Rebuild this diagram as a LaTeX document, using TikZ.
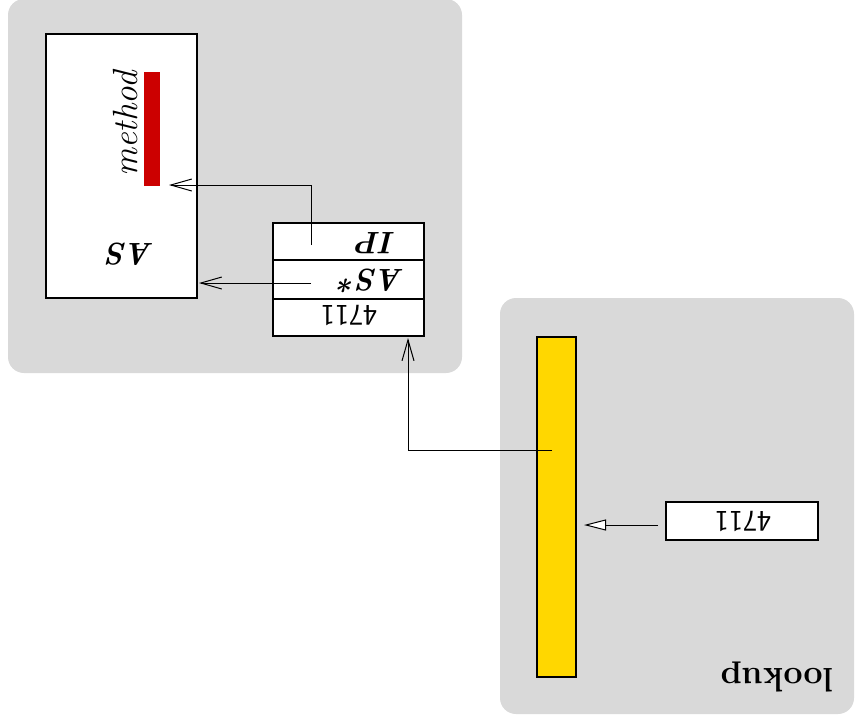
\documentclass[tikz,border=0pt]{standalone}
\usepackage{fontspec}
\usetikzlibrary{arrows.meta}
\definecolor{panelgrey}{HTML}{D9D9D9}
\definecolor{baryellow}{HTML}{FFD700}
\definecolor{barred}{HTML}{CC0000}
\begin{document}
\begin{tikzpicture}[x=1pt,y=-1pt,
  panel/.style={fill=panelgrey, rounded corners=16pt, draw=none, inner sep=0pt, outer sep=0pt},
  box/.style={draw=black, fill=white, line width=1.3pt, inner sep=0pt, outer sep=0pt},
  lbl/.style={inner sep=0pt, rotate=180},
  bfit/.style={font=\fontsize{31}{36}\selectfont\bfseries\itshape},
  numf/.style={font=\fontsize{30}{34}\selectfont\sffamily},
  barb/.style={line width=1pt, -{Straight Barb[length=21pt,width=12pt,line width=1pt]}},
  tri/.style={line width=1pt, -{Triangle[open,fill=white,length=22pt,width=11pt,line width=1pt]}},
]
\useasboundingbox (0,0) rectangle (855,721);
% panels
\node[panel, minimum width=454pt, minimum height=374pt] (p1) at (235,186) {};
\node[panel, minimum width=354pt, minimum height=416pt] (p2) at (677,506) {};
% AS object
\node[box, minimum width=151pt, minimum height=264pt] (asbox) at (121.5,166) {};
\node[fill=barred, inner sep=0pt, minimum width=16pt, minimum height=114pt] (redbar) at (152,129) {};
\node[inner sep=0pt, rotate=90, font=\fontsize{35}{40}\selectfont\itshape] (method) at (126,124) {method};
\node[lbl, bfit] (astext) at (131,254) {AS};
% record
\node[box, minimum width=151pt, minimum height=37pt] (rowip) at (348.5,241.5) {};
\node[box, minimum width=151pt, minimum height=39pt] (rowas) at (348.5,279.5) {};
\node[box, minimum width=151pt, minimum height=37pt] (rownum) at (348.5,317.5) {};
\node[lbl, bfit] (iptext) at (376,243) {IP};
\node[lbl, bfit] (asstext) at (372,281) {AS*};
\node[lbl, numf] (numtext) at (349,315) {4711};
% lookup
\node[draw=black, fill=baryellow, line width=1.3pt, inner sep=0pt, minimum width=39pt, minimum height=340pt] (yellow) at (556.5,507) {};
\node[box, minimum width=152pt, minimum height=38pt] (numbox) at (742,521) {};
\node[lbl, numf] (numtext2) at (743,521) {4711};
\node[lbl, font=\fontsize{34}{38}\selectfont\bfseries] (lookup) at (777,677) {lookup};
% connector end points
\coordinate (ipS) at (311,245);
\coordinate (redIn) at (169,185);
\coordinate (asS) at (311,283);
\coordinate (yS) at (552,450);
\coordinate (rowIn) at (408,338);
\coordinate (numS) at (658,525);
\coordinate (yIn) at (584,525);
% connectors
\draw[barb] (ipS) |- (redIn);
\draw[barb, shorten >=2pt] (asS) -- (asbox.east |- asS);
\draw[barb] (yS) -| (rowIn);
\draw[tri] (numS) -- (yIn);
\end{tikzpicture}
\end{document}
